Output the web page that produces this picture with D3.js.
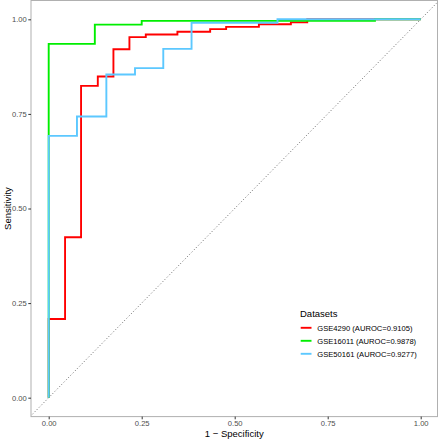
<!DOCTYPE html>
<html>
<head>
<meta charset="utf-8">
<script src="https://cdn.jsdelivr.net/npm/d3@7"></script>
<style>
body { margin: 0; background: #fff; }
svg { display: block; font-family: "Liberation Sans", Arial, sans-serif; }
</style>
</head>
<body>
<svg id="chart" width="440" height="440"></svg>
<script>
// ---- data ----
const seriesNames = ["GSE4290 (AUROC=0.9105)", "GSE16011 (AUROC=0.9878)", "GSE50161 (AUROC=0.9277)"];
const seriesColors = ["#FF0000", "#00EE00", "#5CC8FF"];
const fprGSE4290  = [0, 0, 0.044, 0.087, 0.132, 0.174, 0.217, 0.261, 0.346, 0.434, 0.477, 0.565, 0.651, 0.695, 1];
const tprGSE4290  = [0, 0.208, 0.424, 0.824, 0.849, 0.921, 0.953, 0.960, 0.967, 0.974, 0.980, 0.987, 0.992, 1, 1];
const fprGSE16011 = [0, 0, 0.124, 0.250, 0.877, 1];
const tprGSE16011 = [0, 0.935, 0.986, 0.996, 1, 1];
const fprGSE50161 = [0, 0, 0.076, 0.155, 0.232, 0.308, 0.384, 0.615, 1];
const tprGSE50161 = [0, 0.692, 0.743, 0.854, 0.871, 0.922, 0.991, 1, 1];
const tickValues = [0, 0.25, 0.5, 0.75, 1];
const tickLabels = ["0.00", "0.25", "0.50", "0.75", "1.00"];
const legendTitle = "Datasets";
const xTitle = "1 \u2212 Specificity";
const yTitle = "Sensitivity";

const series = [
  { name: seriesNames[0], color: seriesColors[0], fpr: fprGSE4290, tpr: tprGSE4290 },
  { name: seriesNames[1], color: seriesColors[1], fpr: fprGSE16011, tpr: tprGSE16011 },
  { name: seriesNames[2], color: seriesColors[2], fpr: fprGSE50161, tpr: tprGSE50161 }
];

// ---- layout ----
const svg = d3.select("#chart");
const x = d3.scaleLinear().domain([-0.05, 1.05]).range([30.1, 439.3]);
const y = d3.scaleLinear().domain([-0.05, 1.05]).range([416.6, 0.4]);
const panel = { x0: 31, x1: 437.5, y0: 0.5, y1: 416.6 };

svg.append("defs").append("clipPath").attr("id", "clip")
  .append("rect").attr("x", panel.x0).attr("y", panel.y0)
  .attr("width", panel.x1 - panel.x0).attr("height", panel.y1 - panel.y0);

// diagonal reference line
svg.append("line")
  .attr("clip-path", "url(#clip)")
  .attr("x1", x(-0.05)).attr("y1", y(-0.05))
  .attr("x2", x(1.05)).attr("y2", y(1.05))
  .attr("stroke", "#666").attr("stroke-width", 1)
  .attr("stroke-dasharray", "1,2.2");

// ROC curves
const line = d3.line().x(d => x(d[0])).y(d => y(d[1])).curve(d3.curveStepAfter);
const g = svg.append("g").attr("clip-path", "url(#clip)");
series.forEach(s => {
  const pts = s.fpr.map((f, i) => [f, s.tpr[i]]);
  g.append("path").datum(pts)
    .attr("d", line)
    .attr("fill", "none")
    .attr("stroke", s.color)
    .attr("stroke-width", 1.9)
    .attr("stroke-linejoin", "miter");
});

// panel border
svg.append("rect")
  .attr("x", panel.x0).attr("y", panel.y0)
  .attr("width", panel.x1 - panel.x0).attr("height", panel.y1 - panel.y0)
  .attr("fill", "none").attr("stroke", "#b0b0b0").attr("stroke-width", 1);

// axes
const fmt = d => tickLabels[tickValues.indexOf(d)];
const xAxis = svg.append("g").attr("transform", `translate(0,${panel.y1})`)
  .call(d3.axisBottom(x).tickValues(tickValues).tickFormat(fmt).tickSize(2.7).tickPadding(1));
const yAxis = svg.append("g").attr("transform", `translate(${panel.x0},0)`)
  .call(d3.axisLeft(y).tickValues(tickValues).tickFormat(fmt).tickSize(2.7).tickPadding(1.5));
[xAxis, yAxis].forEach(a => {
  a.select(".domain").remove();
  a.selectAll(".tick line").attr("stroke", "#333");
  a.selectAll(".tick text").attr("fill", "#4D4D4D").style("font-size", "7.6px")
    .style("font-family", "Liberation Sans, Arial, sans-serif");
});

// axis titles
svg.append("text").attr("x", (panel.x0 + panel.x1) / 2).attr("y", 436.5)
  .attr("text-anchor", "middle").style("font-size", "9.5px").attr("fill", "#000").text(xTitle);
svg.append("text").attr("transform", `translate(11,${(panel.y0 + panel.y1) / 2}) rotate(-90)`)
  .attr("text-anchor", "middle").style("font-size", "9.5px").attr("fill", "#000").text(yTitle);

// legend
const lg = svg.append("g").attr("transform", "translate(300,0)");
lg.append("text").attr("x", 0).attr("y", 316.5).style("font-size", "9.5px").attr("fill", "#000").text(legendTitle);
series.forEach((s, i) => {
  const yy = 327.8 + i * 13;
  lg.append("line").attr("x1", 0.7).attr("x2", 11.5).attr("y1", yy).attr("y2", yy)
    .attr("stroke", s.color).attr("stroke-width", 1.9);
  lg.append("text").attr("x", 17.3).attr("y", yy + 2.8).style("font-size", "7.6px")
    .attr("fill", "#000").text(s.name);
});
</script>
</body>
</html>
